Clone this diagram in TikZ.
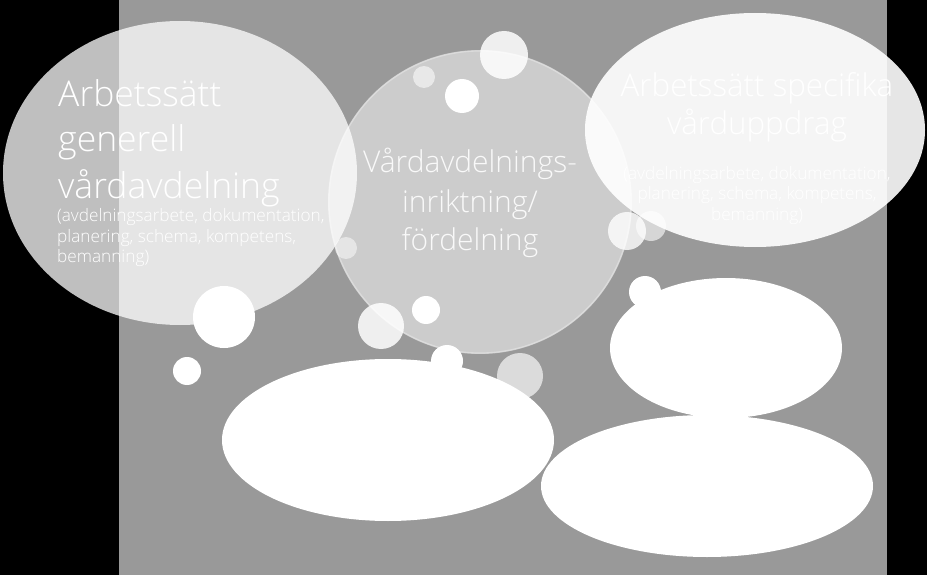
\documentclass[tikz,border=0pt]{standalone}
\usepackage{fontspec}
\setmainfont{Open Sans}[UprightFont={* Light}]
\begin{document}
\begin{tikzpicture}[x=1pt,y=-1pt,
  bigtitle/.style={text=white, inner sep=0pt, font=\fontsize{35.5}{40}\selectfont},
  righttitle/.style={text=white, inner sep=0pt, font=\fontsize{31.3}{36}\selectfont},
  midtitle/.style={text=white!95!gray, inner sep=0pt, font=\fontsize{30}{34}\selectfont},
  smalltext/.style={text=white, inner sep=0pt, font=\fontsize{17.2}{19}\selectfont},
  bubble/.style={fill=white, draw=none},
  blob/.style={fill=white, draw=none}]
% background
\fill[black] (0,0) rectangle (927,575);
\fill[black!40] (119,0) rectangle (887,575);
\useasboundingbox (0,0) rectangle (927,575);
% left ellipse
\fill[white, opacity=0.75] (180,173) ellipse [x radius=177pt, y radius=152pt];
% middle circle
\fill[white, opacity=0.5] (480,202) circle [radius=152pt];
\draw[white, opacity=0.3, line width=1.2pt] (480,202) circle [radius=151pt];
% right ellipse
\fill[white, opacity=0.9] (755,130) ellipse [x radius=170pt, y radius=117pt];
% bubbles
\fill[bubble, opacity=0.85] (504,55) circle [radius=24pt];
\fill[bubble, opacity=0.55] (424,77) circle [radius=11pt];
\fill[bubble] (462,96) circle [radius=17pt];
\fill[bubble, opacity=0.5] (346,248) circle [radius=11pt];
\fill[bubble, opacity=0.6] (651,226) circle [radius=15pt];
\fill[bubble, opacity=0.8] (627,231) circle [radius=19pt];
\fill[bubble] (224,317) circle [radius=31pt];
\fill[bubble] (187,371) circle [radius=14pt];
\fill[bubble, opacity=0.85] (381,326) circle [radius=23pt];
\fill[bubble] (426,310) circle [radius=14pt];
\fill[bubble] (447,361) circle [radius=16pt];
\fill[bubble, opacity=0.65] (520,376) circle [radius=23pt];
\fill[bubble] (645,292) circle [radius=16pt];
% bottom ellipses
\fill[blob] (388,440) ellipse [x radius=166pt, y radius=81pt];
\fill[blob] (726,348) ellipse [x radius=116pt, y radius=70pt];
\fill[blob] (707,486) ellipse [x radius=166pt, y radius=71pt];
% texts left
\node[bigtitle, anchor=base west] (l1) at (58,107) {Arbetssätt};
\node[bigtitle, anchor=base west] (l2) at (58,152) {generell};
\node[bigtitle, anchor=base west] (l3) at (58,198) {vårdavdelning};
\node[smalltext, anchor=base west] (l4) at (57,222) {(avdelningsarbete, dokumentation,};
\node[smalltext, anchor=base west] (l5) at (57,242) {planering, schema, kompetens,};
\node[smalltext, anchor=base west] (l6) at (57,262) {bemanning)};
% texts middle
\node[midtitle, anchor=base] (m1) at (470,173) {Vårdavdelnings-};
\node[midtitle, anchor=base] (m2) at (470,212) {inriktning/};
\node[midtitle, anchor=base] (m3) at (470,250) {fördelning};
% texts right
\node[righttitle, anchor=base] (r1) at (757,97) {Arbetssätt specifika};
\node[righttitle, anchor=base] (r2) at (757,135) {vårduppdrag};
\node[smalltext, anchor=base] (r3) at (757,180) {(avdelningsarbete, dokumentation,};
\node[smalltext, anchor=base] (r4) at (757,200) {planering, schema, kompetens,};
\node[smalltext, anchor=base] (r5) at (757,220) {bemanning)};
\end{tikzpicture}
\end{document}
